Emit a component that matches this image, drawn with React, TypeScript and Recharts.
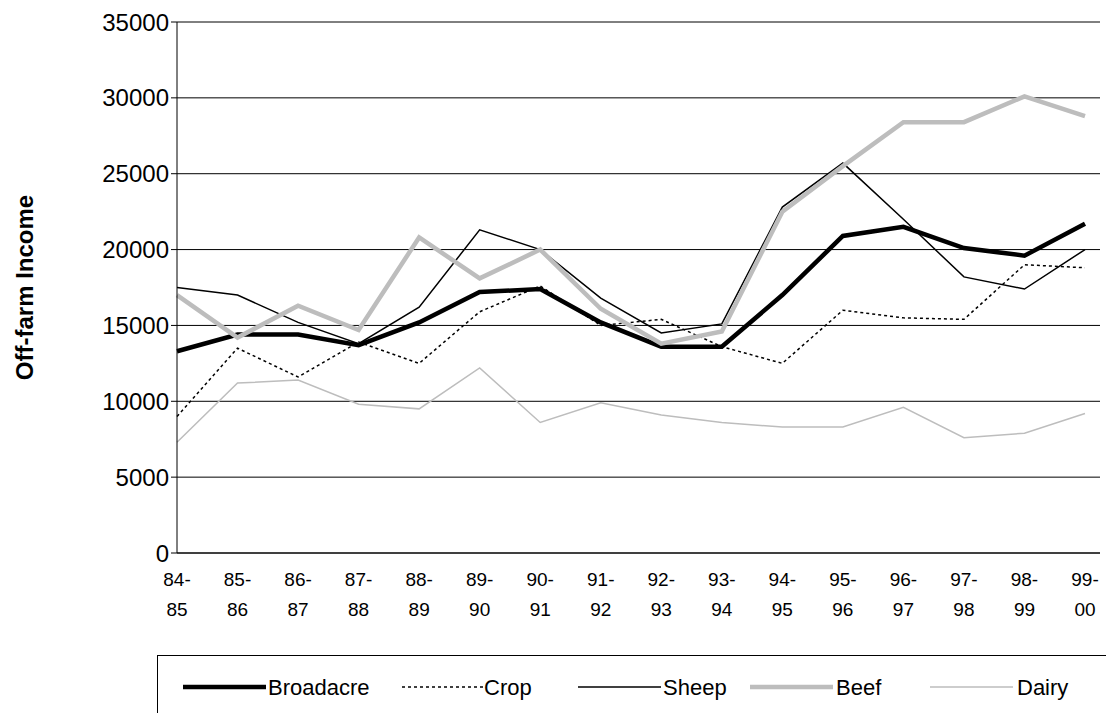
import React from 'react'
import { LineChart, Line, XAxis, YAxis, CartesianGrid } from 'recharts'

const seasons = ['84-85', '85-86', '86-87', '87-88', '88-89', '89-90', '90-91', '91-92', '92-93', '93-94', '94-95', '95-96', '96-97', '97-98', '98-99', '99-00']
const broadacre = [13300, 14400, 14400, 13700, 15200, 17200, 17400, 15200, 13600, 13600, 17000, 20900, 21500, 20100, 19600, 21700]
const crop = [9000, 13500, 11600, 13900, 12500, 15900, 17600, 15000, 15400, 13600, 12500, 16000, 15500, 15400, 19000, 18800]
const sheep = [17500, 17000, 15200, 13800, 16200, 21300, 20000, 16800, 14500, 15100, 22800, 25700, 22000, 18200, 17400, 20000]
const beef = [17000, 14200, 16300, 14700, 20800, 18100, 20000, 16100, 13800, 14600, 22500, 25500, 28400, 28400, 30100, 28800]
const dairy = [7300, 11200, 11400, 9800, 9500, 12200, 8600, 9900, 9100, 8600, 8300, 8300, 9600, 7600, 7900, 9200]
const yTicks = [0, 5000, 10000, 15000, 20000, 25000, 30000, 35000]

const data = seasons.map((s, i) => ({
  season: s,
  Broadacre: broadacre[i],
  Crop: crop[i],
  Sheep: sheep[i],
  Beef: beef[i],
  Dairy: dairy[i],
}))

const series = [
  { key: 'Broadacre', color: '#000', width: 4.5, dash: undefined },
  { key: 'Crop', color: '#000', width: 1.5, dash: '3 3' },
  { key: 'Sheep', color: '#000', width: 1.5, dash: undefined },
  { key: 'Beef', color: '#bdbdbd', width: 4.5, dash: undefined },
  { key: 'Dairy', color: '#bdbdbd', width: 1.5, dash: undefined },
]

const font = 'Arial, "Liberation Sans", sans-serif'

function SeasonTick({ x, y, payload }: any) {
  const [a, b] = String(payload.value).split('-')
  return (
    <text x={x} y={y} textAnchor="middle" fontSize={19} fontFamily={font} fill="#000">
      <tspan x={x} dy={25}>{a}-</tspan>
      <tspan x={x} dy={30}>{b}</tspan>
    </text>
  )
}

const legendPos = [
  { key: 'Broadacre', lx: 183, tx: 268 },
  { key: 'Crop', lx: 402, tx: 484 },
  { key: 'Sheep', lx: 578, tx: 663 },
  { key: 'Beef', lx: 750, tx: 836 },
  { key: 'Dairy', lx: 930, tx: 1017 },
]

export default function App() {
  return (
    <div style={{ position: 'absolute', left: 0, top: 0, width: 1106, height: 713, background: '#fff', overflow: 'hidden' }}>
      <LineChart width={1106} height={640} data={data} margin={{ top: 22, right: 6, bottom: 0, left: 0 }}>
        <CartesianGrid vertical={false} stroke="#000" strokeWidth={1} />
        <XAxis
          dataKey="season"
          tick={<SeasonTick />}
          interval={0}
          padding={{ left: 0, right: 15 }}
          stroke="#000"
          tickLine={false}
          height={87}
        />
        <YAxis
          domain={[0, 35000]}
          ticks={yTicks}
          width={177}
          stroke="#000"
          tick={{ fontSize: 24, fontFamily: font, fill: '#000' }}
          label={{ value: 'Off-farm Income', angle: -90, position: 'insideLeft', offset: 24, style: { fontSize: 24, fontWeight: 'bold', fontFamily: font, fill: '#000', textAnchor: 'middle' } }}
        />
        {series.map(s => (
          <Line
            key={s.key}
            dataKey={s.key}
            type="linear"
            stroke={s.color}
            strokeWidth={s.width}
            strokeDasharray={s.dash}
            dot={false}
            isAnimationActive={false}
          />
        ))}
      </LineChart>
      <div style={{ position: 'absolute', left: 157, top: 655, width: 1000, height: 80, border: '1px solid #000' }} />
      <svg style={{ position: 'absolute', left: 0, top: 655 }} width={1106} height={58}>
        {legendPos.map(p => {
          const s = series.find(x => x.key === p.key)!
          return (
            <g key={p.key}>
              <line x1={p.lx} x2={p.lx + 83} y1={32} y2={32} stroke={s.color} strokeWidth={s.width} strokeDasharray={s.dash} />
              <text x={p.tx} y={40} fontSize={22} fontFamily={font} fill="#000">{p.key}</text>
            </g>
          )
        })}
      </svg>
    </div>
  )
}
